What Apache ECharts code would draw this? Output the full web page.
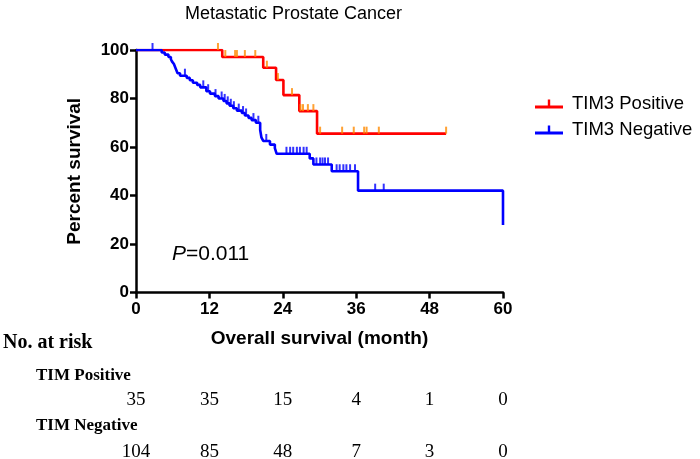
<!DOCTYPE html>
<html>
<head>
<meta charset="utf-8">
<script src="https://cdn.jsdelivr.net/npm/echarts@6/dist/echarts.min.js"></script>
<style>html,body{margin:0;padding:0;background:#fff}#c{width:700px;height:459px}</style>
</head>
<body>
<div id="c"></div>
<script>
// ---- data ----
const posTimes = [0, 14.1, 20.8, 22.9, 24.1, 26.7, 29.6, 50.7];
const posSurv  = [100, 97.1, 92.7, 87.6, 81.4, 74.8, 65.5, 65.5];
const posCensor = [13.4, 14.6, 16.2, 16.5, 17.8, 19.5, 21.4, 23.2, 25.5, 26.9, 27.3, 28.1, 29.0, 30.1, 33.7, 35.6, 37.3, 37.7, 39.7, 50.7];

const negTimes = [0, 4.2, 4.7, 5.3, 5.7, 5.9, 6.2, 6.5, 6.8, 7.2, 8.3, 8.8, 9.3, 10.0, 10.5, 11.5, 12.1, 12.9, 13.5, 14.3, 14.8, 15.3, 15.9, 16.5, 17.3, 17.8, 18.4, 18.9, 19.6, 20.3, 20.5, 20.8, 21.9, 22.7, 23.0, 28.4, 29.0, 32.0, 36.3, 60.0];
const negSurv  = [100, 99.0, 98.1, 97.1, 96.2, 95.2, 94.2, 92.3, 90.4, 89.4, 88.5, 87.5, 86.5, 85.6, 84.6, 83.0, 82.0, 81.0, 80.0, 79.0, 78.0, 77.0, 76.0, 75.0, 74.0, 73.0, 72.0, 71.1, 70.0, 67.0, 64.0, 62.5, 61.0, 59.5, 57.2, 55.3, 52.8, 50.0, 42.0, 27.8];
const negCensor = [2.7, 8.0, 11.0, 11.8, 13.0, 14.0, 14.5, 15.0, 15.5, 16.0, 16.8, 17.5, 18.0, 19.2, 20.0, 21.3, 24.6, 25.2, 25.7, 26.3, 26.8, 27.4, 27.9, 29.5, 30.1, 30.5, 30.9, 31.4, 32.8, 33.3, 33.9, 34.4, 35.0, 35.8, 39.1, 40.5];

const riskTimes = [0, 12, 24, 36, 48, 60];
const riskPos = [35, 35, 15, 4, 1, 0];
const riskNeg = [104, 85, 48, 7, 3, 0];

const xTicks = [0, 12, 24, 36, 48, 60];
const yTicks = [0, 20, 40, 60, 80, 100];

const seriesNames = ['TIM3 Positive', 'TIM3 Negative'];
const pValueText = '0.011';

// ---- helpers ----
function survAt(times, surv, t) {
  let s = surv[0];
  for (let i = 0; i < times.length; i++) { if (times[i] <= t) s = surv[i]; }
  return s;
}
const pair = (a, b) => a.map((v, i) => [v, b[i]]);

const SANS = 'Liberation Sans, Arial, sans-serif';
const SERIF = 'Liberation Serif, Times New Roman, serif';
const RED = '#ff0000', ORANGE = '#ff8a00', BLUE = '#0000ff';

const chart = echarts.init(document.getElementById('c'), null, {renderer: 'canvas'});
const tickSym = 'path://M0,0H2V7H0Z';

const riskLabel = {
  show: true, position: 'inside', formatter: p => String(p.value[2]),
  fontFamily: SERIF, fontSize: 19, color: '#000', opacity: 1, textBorderWidth: 0
};

chart.setOption({
  animation: false,
  backgroundColor: '#fff',
  title: {
    text: 'Metastatic Prostate Cancer',
    left: 180, top: 0,
    textStyle: {fontFamily: SANS, fontSize: 18, fontWeight: 'normal', color: '#000'}
  },
  legend: {
    data: seriesNames,
    orient: 'vertical',
    left: 530, top: 89,
    itemWidth: 28, itemHeight: 10, itemGap: 6,
    icon: 'path://M0,6H28V9H0Z M12.8,0H15.2V6H12.8Z',
    textStyle: {fontFamily: SANS, fontSize: 18.5, color: '#000', lineHeight: 20, padding: [0, 0, 0, 4]}
  },
  grid: [
    {left: 136, right: 197, top: 50, bottom: 166.5},
    {left: 136, right: 197, top: 400, height: 52}
  ],
  xAxis: [{
    type: 'value', gridIndex: 0, min: 0, max: 60, interval: 12,
    name: 'Overall survival (month)', nameLocation: 'middle', nameGap: 37,
    nameTextStyle: {fontFamily: SANS, fontSize: 19, fontWeight: 'bold', color: '#000'},
    axisLine: {lineStyle: {color: '#000', width: 2.5}},
    axisTick: {length: 6, lineStyle: {color: '#000', width: 2.5}},
    axisLabel: {fontFamily: SANS, fontSize: 17, fontWeight: 'bold', color: '#000', margin: 8},
    splitLine: {show: false}
  }, {
    type: 'value', gridIndex: 1, min: 0, max: 60, show: false
  }],
  yAxis: [{
    type: 'value', gridIndex: 0, min: 0, max: 100, interval: 20,
    name: 'Percent survival', nameLocation: 'middle', nameGap: 52,
    nameTextStyle: {fontFamily: SANS, fontSize: 19, fontWeight: 'bold', color: '#000'},
    axisLine: {show: true, lineStyle: {color: '#000', width: 2.5}},
    axisTick: {show: true, length: 6, lineStyle: {color: '#000', width: 2.5}},
    axisLabel: {fontFamily: SANS, fontSize: 17, fontWeight: 'bold', color: '#000', margin: 7},
    splitLine: {show: false}
  }, {
    type: 'value', gridIndex: 1, min: 0, max: 1, show: false
  }],
  series: [
    {
      name: seriesNames[0], type: 'line', step: 'end', xAxisIndex: 0, yAxisIndex: 0,
      data: pair(posTimes, posSurv), showSymbol: false, symbol: 'none',
      lineStyle: {color: RED, width: 2.6}, itemStyle: {color: RED}, z: 2
    },
    {
      name: 'pos-censor', type: 'scatter', xAxisIndex: 0, yAxisIndex: 0,
      data: posCensor.map(t => [t, survAt(posTimes, posSurv, t)]),
      symbol: tickSym, symbolSize: [2, 7], symbolOffset: [0, -3.5],
      itemStyle: {color: ORANGE}, z: 3, silent: true
    },
    {
      name: seriesNames[1], type: 'line', step: 'end', xAxisIndex: 0, yAxisIndex: 0,
      data: pair(negTimes, negSurv), showSymbol: false, symbol: 'none',
      lineStyle: {color: BLUE, width: 2.6}, itemStyle: {color: BLUE}, z: 4
    },
    {
      name: 'neg-censor', type: 'scatter', xAxisIndex: 0, yAxisIndex: 0,
      data: negCensor.map(t => [t, survAt(negTimes, negSurv, t)]),
      symbol: tickSym, symbolSize: [2, 7], symbolOffset: [0, -3.5],
      itemStyle: {color: BLUE}, z: 5, silent: true
    },
    {
      name: 'risk-pos', type: 'scatter', xAxisIndex: 1, yAxisIndex: 1,
      data: riskTimes.map((t, i) => [t, 1, riskPos[i]]),
      symbolSize: 1, itemStyle: {color: '#ffffff', opacity: 1}, silent: true,
      label: riskLabel
    },
    {
      name: 'risk-neg', type: 'scatter', xAxisIndex: 1, yAxisIndex: 1,
      data: riskTimes.map((t, i) => [t, 0, riskNeg[i]]),
      symbolSize: 1, itemStyle: {color: '#ffffff', opacity: 1}, silent: true,
      label: riskLabel
    }
  ],
  graphic: [
    {type: 'text', left: 172, top: 244, style: {
      text: '{i|P}=' + pValueText,
      rich: {i: {fontStyle: 'italic', fontFamily: SANS, fontSize: 21, fill: '#000'}},
      fontFamily: SANS, fontSize: 21, fill: '#000'}},
    {type: 'text', left: 3, top: 333, style: {text: 'No. at risk', fontFamily: SERIF, fontWeight: 'bold', fontSize: 20, fill: '#000'}},
    {type: 'text', left: 36, top: 367, style: {text: 'TIM Positive', fontFamily: SERIF, fontWeight: 'bold', fontSize: 17, fill: '#000'}},
    {type: 'text', left: 36, top: 417, style: {text: 'TIM Negative', fontFamily: SERIF, fontWeight: 'bold', fontSize: 17, fill: '#000'}}
  ]
});
</script>
</body>
</html>
